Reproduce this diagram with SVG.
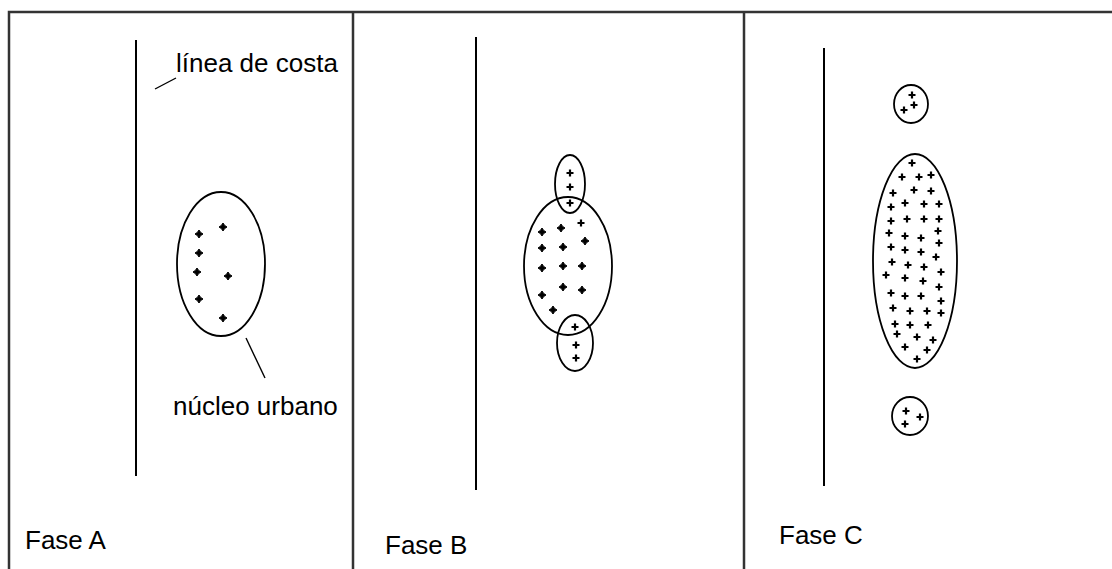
<svg xmlns="http://www.w3.org/2000/svg" xmlns:xlink="http://www.w3.org/1999/xlink" width="1112" height="569" viewBox="0 0 1112 569">
<style>
.frame{stroke:#333;stroke-width:2.5;fill:none}
.coast{stroke:#000;stroke-width:2;fill:none}
.ell{stroke:#000;stroke-width:1.8;fill:none}
.lead{stroke:#000;stroke-width:1.4;fill:none}
.lbl{font-family:"Liberation Sans",Arial,sans-serif;font-size:26px;fill:#000}
</style>
<defs>
<path id="d" d="M0,-4L1.6,-1.6L4,0L1.6,1.6L0,4L-1.6,1.6L-4,0L-1.6,-1.6Z" fill="#000" stroke="#000" stroke-width="1"/>
<path id="p" d="M-3.5,0H3.5M0,-3.5V3.5" stroke="#000" stroke-width="2.2" fill="none"/>
</defs>
<rect width="1112" height="569" fill="#fff"/>
<g id="frame">
<path class="frame" d="M9,569V12H1112M353,12V569M744,12V569"/>
</g>
<g id="panelA">
<line class="coast" x1="136" y1="40" x2="136" y2="476"/>
<ellipse class="ell" cx="221" cy="264" rx="44" ry="72"/>
<use href="#d" x="223" y="227"/><use href="#d" x="199" y="234"/><use href="#d" x="199" y="253"/>
<use href="#d" x="197" y="272"/><use href="#d" x="228" y="276"/><use href="#d" x="199" y="299"/>
<use href="#d" x="223" y="318"/>
<text class="lbl" x="176" y="72">línea de costa</text>
<text class="lbl" x="173" y="415">núcleo urbano</text>
<text class="lbl" x="25" y="549">Fase A</text>
</g>
<g id="panelB">
<line class="coast" x1="476" y1="37" x2="476" y2="490"/>
<ellipse class="ell" cx="568" cy="266" rx="44" ry="69"/>
<ellipse class="ell" cx="570" cy="184" rx="15" ry="29"/>
<ellipse class="ell" cx="575" cy="343" rx="18" ry="28"/>
<use href="#p" x="570" y="173"/><use href="#p" x="570" y="187"/><use href="#p" x="570" y="203"/>
<use href="#d" x="542" y="232"/><use href="#d" x="561" y="228"/><use href="#p" x="581" y="223"/>
<use href="#d" x="542" y="248"/><use href="#d" x="563" y="247"/><use href="#d" x="585" y="241"/>
<use href="#d" x="542" y="268"/><use href="#d" x="563" y="266"/><use href="#d" x="582" y="266"/>
<use href="#d" x="542" y="295"/><use href="#d" x="563" y="287"/><use href="#d" x="582" y="290"/>
<use href="#d" x="553" y="310"/>
<use href="#p" x="575" y="327"/><use href="#p" x="576" y="345"/><use href="#p" x="576" y="358"/>
<text class="lbl" x="385" y="554">Fase B</text>
</g>
<g id="panelC">
<line class="coast" x1="824" y1="48" x2="824" y2="486"/>
<ellipse class="ell" cx="911" cy="104" rx="17" ry="19"/>
<use href="#p" x="912" y="95"/><use href="#p" x="914" y="105"/><use href="#p" x="904" y="110"/>
<ellipse class="ell" cx="915" cy="261" rx="42" ry="107"/>
<use href="#p" x="912" y="163"/>
<use href="#p" x="902" y="177"/><use href="#p" x="919" y="177"/><use href="#p" x="931" y="175"/>
<use href="#p" x="893" y="193"/><use href="#p" x="914" y="190"/><use href="#p" x="931" y="191"/>
<use href="#p" x="891" y="207"/><use href="#p" x="905" y="203"/><use href="#p" x="924" y="204"/><use href="#p" x="939" y="204"/>
<use href="#p" x="891" y="221"/><use href="#p" x="907" y="219"/><use href="#p" x="924" y="219"/><use href="#p" x="939" y="219"/>
<use href="#p" x="889" y="233"/><use href="#p" x="905" y="236"/><use href="#p" x="921" y="238"/><use href="#p" x="938" y="231"/>
<use href="#p" x="891" y="247"/><use href="#p" x="905" y="250"/><use href="#p" x="921" y="252"/><use href="#p" x="939" y="243"/>
<use href="#p" x="892" y="262"/><use href="#p" x="908" y="265"/><use href="#p" x="924" y="267"/><use href="#p" x="936" y="257"/>
<use href="#p" x="886" y="275"/><use href="#p" x="905" y="278"/><use href="#p" x="923" y="281"/><use href="#p" x="941" y="272"/>
<use href="#p" x="891" y="293"/><use href="#p" x="905" y="296"/><use href="#p" x="921" y="296"/><use href="#p" x="939" y="287"/>
<use href="#p" x="893" y="308"/><use href="#p" x="910" y="311"/><use href="#p" x="927" y="311"/><use href="#p" x="941" y="301"/><use href="#p" x="941" y="313"/>
<use href="#p" x="895" y="324"/><use href="#p" x="910" y="325"/><use href="#p" x="928" y="325"/>
<use href="#p" x="897" y="334"/><use href="#p" x="917" y="337"/><use href="#p" x="933" y="340"/>
<use href="#p" x="905" y="347"/><use href="#p" x="927" y="350"/>
<use href="#p" x="917" y="359"/>
<ellipse class="ell" cx="910" cy="416" rx="18" ry="19"/>
<use href="#p" x="906" y="411"/><use href="#p" x="920" y="417"/><use href="#p" x="905" y="424"/>
<text class="lbl" x="779" y="544">Fase C</text>
</g>
<g id="connectors">
<line class="lead" x1="155" y1="89" x2="176" y2="78"/>
<line class="lead" x1="246" y1="338" x2="265" y2="378"/>
</g>
</svg>
